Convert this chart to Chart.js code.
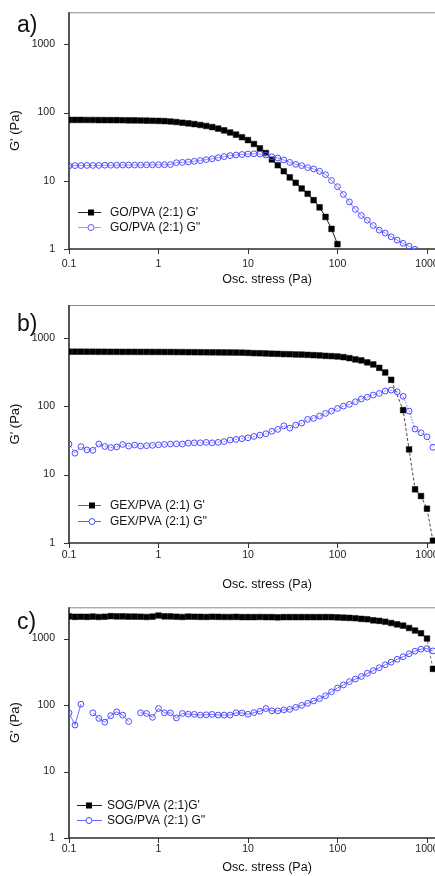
<!DOCTYPE html>
<html>
<head>
<meta charset="utf-8">
<script src="https://cdn.jsdelivr.net/npm/chart.js@4"></script>
<style>
  html, body { margin: 0; padding: 0; background: #fff; }
  body { width: 435px; height: 876px; position: relative; overflow: hidden; }
  .panel { position: absolute; left: 0; width: 470px; }
  .panel canvas { display: block; }
  .tag { position: absolute; left: 17px; font: 23px/23px "Liberation Sans", Arial, sans-serif; color: #111; }
</style>
</head>
<body>
<div class="panel" style="top:0;height:290px"><canvas id="chartA"></canvas></div>
<div class="panel" style="top:290px;height:305px"><canvas id="chartB"></canvas></div>
<div class="panel" style="top:595px;height:281px"><canvas id="chartC"></canvas></div>
<div class="tag" style="top:13px">a)</div>
<div class="tag" style="top:312px">b)</div>
<div class="tag" style="top:610px">c)</div>
<script>
// Oscillatory stress steps of the sweep (Pa), same for every sample
const stress = [
  0.1, 0.1166, 0.1359, 0.1585, 0.1848, 0.2154, 0.2512, 0.2929, 0.3415, 0.3981,
  0.4642, 0.5412, 0.631, 0.7356, 0.8577, 1, 1.166, 1.359, 1.585, 1.848,
  2.154, 2.512, 2.929, 3.415, 3.981, 4.642, 5.412, 6.31, 7.356, 8.577,
  10, 11.66, 13.59, 15.85, 18.48, 21.54, 25.12, 29.29, 34.15, 39.81,
  46.42, 54.12, 63.1, 73.56, 85.77, 100, 116.6, 135.9, 158.5, 184.8,
  215.4, 251.2, 292.9, 341.5, 398.1, 464.2, 541.2, 631, 735.6, 857.7,
  1000, 1166
];

// a) GO/PVA (2:1)
const goStorage = [
  78, 78, 78, 77.8, 77.8, 77.6, 77.6, 77.4, 77.4, 77.2, 77,
  76.8, 76.5, 76.2, 75.8, 75.4, 75, 74, 72.7,
  71, 69.5, 67.8, 65.8, 63.6, 61.2, 58.3, 54.8, 51, 47.5,
  43.5, 39.5, 34.6, 29.8, 25.5, 20.5, 16.9, 13.8, 11.2, 9.35,
  7.7, 6.45, 5.2, 4.08, 2.95, 1.97, 1.18
];
const goLoss = [
  16.5, 16.7, 16.7, 16.8, 16.8, 16.8, 16.9, 16.9, 16.9, 17, 17, 17, 17, 17.1, 17.1, 17.2, 17.2, 17.3,
  18.4, 18.6, 18.9, 19.3, 19.8, 20.4, 21, 21.8, 22.6, 23.4, 23.9,
  24.3, 24.7, 24.9, 24.6, 23.8, 22.5, 21.6, 20.2, 18.6, 17.4, 16.7, 15.6, 14.9, 13.8, 12.3,
  10.1, 8.2, 6.3, 4.9, 3.8, 3.1, 2.64, 2.21, 1.89, 1.71, 1.51, 1.35, 1.21, 1.1, 0.99
];

// b) GEX/PVA (2:1)
const gexStorage = [
  625, 624, 624, 623, 623, 622, 622, 621, 621, 620, 620, 620, 619, 619, 618, 618, 617, 617,
  616, 615, 614, 613, 612, 611, 610, 609, 608, 607, 606,
  604, 600, 594, 592, 588, 583, 580, 575, 573, 568, 566, 561, 555, 550, 542, 537, 531, 519,
  502, 481, 465, 435, 406, 362, 310, 242, null, 87.4, 23.3, 6.08, 4.85, 3.17, 1.08
];
const gexLoss = [
  27.9, 20.5, 25.6, 22.9, 22.6, 28, 25.7, 24.8, 25.3, 27.5, 26.1, 27,
  26.1, 26.4, 26.7, 27.2, 27.6, 27.9, 28.1, 27.9, 28.8, 29.1, 29.1, 29.5, 29.1, 29.5, 30.3, 31.9, 32.6,
  33.4, 34.4, 36.1, 37.7, 39.5, 42.8, 45.7, 51.6, 47.7, 52.8, 56.5, 64, 66.1, 71.4, 78.2, 84.5,
  92.5, 100, 106, 116, 127, 135, 145, 153, 166, 171, 162, 139, 84.5, 46.2, 40.8, 35.6, 25
];

// c) SOG/PVA (2:1)
const sogStorage = [
  2150, 2120, 2130, 2120, 2140, 2110, 2130, 2170, 2150, 2150, 2140, 2140, 2130, 2110, 2140,
  2220, 2160, 2150, 2130, 2110, 2140, 2130, 2120, 2110, 2130, 2120, 2110, 2110, 2120,
  2100, 2100, 2100, 2110, 2100, 2100, 2080, 2100, 2100, 2100, 2100, 2100, 2100, 2100, 2100,
  2100, 2080, 2058, 2043, 2020, 1975, 1950, 1880, 1845, 1790, 1710, 1630, 1560, 1440, 1320,
  1200, 1000, 350
];
const sogLoss = [
  76.4, 50, 103, null, 76.4, 63, 55.2, 69.2, 79, 70.6, 56.5, null,
  76.4, 74.7, 65.3, 88.5, 76.4, 76.4, 64, 74.7, 72.9, 72.4, 70.6, 71.3, 72.4, 70.6, 70.6, 70.6, 76.4,
  76, 72.6, 77, 80.5, 88.5, 81.7, 81.7, 84.6, 86, 92.3, 98.8, 106, 115, 125, 138, 158, 180,
  201, 225, 246, 269, 300, 329, 364, 403, 441, 488, 533, 590, 646, 691, 706, 652
];

// Axis decades and their labels
const xMajor = [0.1, 1, 10, 100, 1000];
const xLabels = ['0.1', '1', '10', '100', '1000'];
const yMajor = [1, 10, 100, 1000];
const yLabels = ['1', '10', '100', '1000'];

const FONT = '"Liberation Sans", Arial, sans-serif';
Chart.defaults.font.family = FONT;

function toPoints(ys) {
  return ys.map((y, i) => ({ x: stress[i], y: y }));
}

// 1..9 steps inside each decade, cut at the axis max
function decadeTicks(majors, max) {
  const out = [];
  majors.forEach(d => {
    for (let m = 1; m <= 9; m++) {
      const v = Number((m * d).toPrecision(3));
      if (v <= max) out.push(v);
    }
  });
  return out;
}

function labelFor(v, majors, labels) {
  const k = majors.findIndex(m => Math.abs(m - v) / m < 1e-6);
  return k >= 0 ? labels[k] : null;
}

// frame: top border, left/bottom axis lines and outward ticks (short for minors)
const framePlugin = {
  id: 'frame',
  beforeDatasetsDraw(chart) {
    const { ctx, chartArea: a, scales: { x, y } } = chart;
    ctx.save();
    ctx.strokeStyle = '#8a8a8a';
    ctx.lineWidth = 1;
    ctx.beginPath();
    ctx.moveTo(a.left, a.top + 0.5);
    ctx.lineTo(a.right, a.top + 0.5);
    ctx.stroke();

    ctx.strokeStyle = '#333';
    ctx.lineWidth = 1;
    x.ticks.forEach(t => {
      const px = Math.round(x.getPixelForValue(t.value)) + 0.5;
      const len = labelFor(t.value, xMajor, xLabels) ? 5 : 3;
      ctx.beginPath();
      ctx.moveTo(px, a.bottom);
      ctx.lineTo(px, a.bottom + len);
      ctx.stroke();
    });
    y.ticks.forEach(t => {
      const py = Math.round(y.getPixelForValue(t.value)) + 0.5;
      const len = labelFor(t.value, yMajor, yLabels) ? 5 : 3;
      ctx.beginPath();
      ctx.moveTo(a.left, py);
      ctx.lineTo(a.left - len, py);
      ctx.stroke();
    });

    ctx.strokeStyle = '#2b2b2b';
    ctx.lineWidth = 1.6;
    ctx.beginPath();
    ctx.moveTo(a.left, a.top);
    ctx.lineTo(a.left, a.bottom);
    ctx.lineTo(a.right, a.bottom);
    ctx.stroke();
    ctx.restore();
  }
};

// legend box drawn inside the plot, lower left
const legendPlugin = {
  id: 'insideLegend',
  afterDraw(chart, args, o) {
    const ctx = chart.ctx;
    ctx.save();
    o.items.forEach(it => {
      ctx.setLineDash([]);
      ctx.strokeStyle = it.line;
      ctx.lineWidth = 1;
      ctx.beginPath();
      ctx.moveTo(o.x0, it.y + 0.5);
      ctx.lineTo(o.x1, it.y + 0.5);
      ctx.stroke();
      if (it.marker === 'rect') {
        ctx.fillStyle = '#000';
        ctx.fillRect(o.mx - 3, it.y - 2.5, 6, 6);
      } else {
        ctx.fillStyle = '#fff';
        ctx.strokeStyle = it.stroke;
        ctx.beginPath();
        ctx.arc(o.mx, it.y + 0.5, 3, 0, Math.PI * 2);
        ctx.fill();
        ctx.stroke();
      }
      ctx.fillStyle = '#111';
      ctx.font = '12px ' + FONT;
      ctx.textBaseline = 'middle';
      ctx.textAlign = 'left';
      ctx.fillText(it.text, o.tx, it.y + 1);
    });
    ctx.restore();
  }
};

const X_MAX = 2660;
const xTicks = decadeTicks(xMajor, X_MAX);

function makeChart(id, p) {
  const yTicks = decadeTicks(yMajor, p.yMax);
  return new Chart(document.getElementById(id), {
    type: 'scatter',
    data: {
      datasets: [
        {
          data: toPoints(p.storage),
          order: 1,
          showLine: true,
          spanGaps: true,
          borderColor: p.storageLine,
          borderWidth: 1,
          borderDash: p.storageDash,
          pointStyle: 'rect',
          pointRadius: 4,
          pointBackgroundColor: '#000',
          pointBorderColor: '#000',
          pointBorderWidth: 0.5
        },
        {
          data: toPoints(p.loss),
          order: 0,
          showLine: true,
          spanGaps: false,
          borderColor: p.lossLine,
          borderWidth: 1,
          borderDash: p.lossDash,
          pointStyle: 'circle',
          pointRadius: 2.9,
          pointBackgroundColor: 'rgba(255,255,255,0)',
          pointBorderColor: '#4a4aff',
          pointBorderWidth: 1
        }
      ]
    },
    options: {
      responsive: true,
      maintainAspectRatio: false,
      animation: false,
      events: [],
      layout: { padding: { left: 0, top: p.top, right: 5, bottom: 0 } },
      scales: {
        x: {
          type: 'logarithmic',
          min: 0.1,
          max: X_MAX,
          afterBuildTicks: s => { s.ticks = xTicks.map(v => ({ value: v })); },
          afterFit: s => { s.height = p.xBox; },
          grid: { display: false },
          border: { display: false },
          ticks: {
            autoSkip: false,
            maxRotation: 0,
            padding: p.labelGap,
            color: '#222',
            font: { size: 10.5 },
            callback: v => labelFor(v, xMajor, xLabels)
          },
          title: {
            display: true,
            text: 'Osc. stress (Pa)',
            color: '#111',
            font: { size: 12.5 },
            padding: { top: 0, bottom: p.titleGap }
          }
        },
        y: {
          type: 'logarithmic',
          min: 1,
          max: p.yMax,
          afterBuildTicks: s => { s.ticks = yTicks.map(v => ({ value: v })); },
          afterFit: s => { s.width = 69; },
          grid: { display: false },
          border: { display: false },
          ticks: {
            autoSkip: false,
            padding: 6,
            color: '#222',
            font: { size: 10.5 },
            callback: v => labelFor(v, yMajor, yLabels)
          },
          title: {
            display: true,
            text: "G' (Pa)",
            color: '#111',
            font: { size: 13 },
            padding: { top: 8, bottom: 0 }
          }
        }
      },
      plugins: {
        legend: { display: false },
        tooltip: { enabled: false },
        insideLegend: p.legend
      }
    },
    plugins: [framePlugin, legendPlugin]
  });
}

makeChart('chartA', {
  storage: goStorage, loss: goLoss,
  storageLine: '#222', storageDash: [], lossLine: '#8c8cff', lossDash: [],
  top: 11, xBox: 41, labelGap: 1, titleGap: 2.5, yMax: 2950,
  legend: { x0: 78, x1: 101, mx: 91, tx: 110, items: [
    { text: "GO/PVA (2:1) G'", y: 212, line: '#222', marker: 'rect' },
    { text: "GO/PVA (2:1) G''", y: 227, line: '#9a9aff', marker: 'circle', stroke: '#5a5aff' }
  ] }
});

makeChart('chartB', {
  storage: gexStorage, loss: gexLoss,
  storageLine: '#444', storageDash: [3, 2], lossLine: '#6a6aff', lossDash: [1.5, 1.5],
  top: 15, xBox: 52, labelGap: -2.5, titleGap: 3, yMax: 3000,
  legend: { x0: 78, x1: 101, mx: 92, tx: 110, items: [
    { text: "GEX/PVA (2:1) G'", y: 215, line: '#666', marker: 'rect' },
    { text: "GEX/PVA (2:1) G''", y: 231, line: '#5a5aff', marker: 'circle', stroke: '#4a4aff' }
  ] }
});

makeChart('chartC', {
  storage: sogStorage, loss: sogLoss,
  storageLine: '#777', storageDash: [3, 2], lossLine: '#7070ff', lossDash: [],
  top: 6, xBox: 38, labelGap: -3, titleGap: 0.5, yMax: 2950,
  legend: { x0: 77, x1: 102, mx: 89, tx: 107, items: [
    { text: "SOG/PVA (2:1)G'", y: 210, line: '#222', marker: 'rect' },
    { text: "SOG/PVA (2:1) G''", y: 225, line: '#6a6aff', marker: 'circle', stroke: '#4a4aff' }
  ] }
});
</script>
</body>
</html>
